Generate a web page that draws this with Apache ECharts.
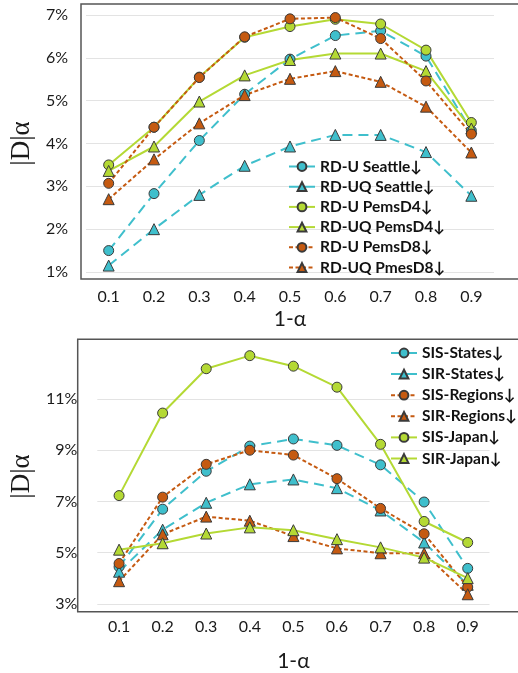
<!DOCTYPE html>
<html>
<head>
<meta charset="utf-8">
<script src="https://cdn.jsdelivr.net/npm/echarts@6/dist/echarts.min.js"></script>
<style>
  html, body { margin: 0; padding: 0; background: #fff; }
  #main { width: 518px; height: 673px; }
</style>
</head>
<body>
<div id="main"></div>
<script>
// x categories (1-alpha), shared by both panels
var alphas = ['0.1', '0.2', '0.3', '0.4', '0.5', '0.6', '0.7', '0.8', '0.9'];

// top panel, values in %
var rduSeattle  = [1.50, 2.83, 4.07, 5.15, 5.97, 6.52, 6.63, 6.04, 4.30];
var rduqSeattle = [1.15, 2.00, 2.80, 3.48, 3.93, 4.20, 4.20, 3.80, 2.78];
var rduPemsD4   = [3.50, 4.38, 5.55, 6.48, 6.73, 6.90, 6.79, 6.18, 4.49];
var rduqPemsD4  = [3.36, 3.93, 4.98, 5.59, 5.95, 6.10, 6.10, 5.69, 4.35];
var rduPemsD8   = [3.07, 4.38, 5.54, 6.49, 6.91, 6.94, 6.45, 5.46, 4.22];
var rduqPmesD8  = [2.70, 3.63, 4.47, 5.13, 5.51, 5.69, 5.44, 4.86, 3.79];

// bottom panel, values in %
var sisStates   = [4.45, 6.70, 8.18, 9.16, 9.44, 9.19, 8.43, 6.98, 4.39];
var sirStates   = [4.26, 5.90, 6.95, 7.67, 7.86, 7.52, 6.65, 5.40, 3.75];
var sisRegions  = [4.58, 7.17, 8.45, 9.00, 8.81, 7.89, 6.73, 5.74, 3.66];
var sirRegions  = [3.89, 5.72, 6.41, 6.25, 5.65, 5.17, 4.98, 4.98, 3.38];
var sisJapan    = [7.23, 10.45, 12.18, 12.69, 12.28, 11.46, 9.23, 6.22, 5.40];
var sirJapan    = [5.12, 5.37, 5.75, 5.99, 5.88, 5.53, 5.21, 4.81, 4.01];

var topNames = ['RD-U Seattle↓', 'RD-UQ Seattle↓', 'RD-U PemsD4↓', 'RD-UQ PemsD4↓', 'RD-U PemsD8↓', 'RD-UQ PmesD8↓'];
var botNames = ['SIS-States↓', 'SIR-States↓', 'SIS-Regions↓', 'SIR-Regions↓', 'SIS-Japan↓', 'SIR-Japan↓'];

var TEAL = '#3fbfcc', GREEN = '#b4d934', ORANGE = '#c55a11';
var tickFont = 'Lato, "Open Sans", sans-serif';
var serifFont = '"Liberation Serif", "DejaVu Serif", serif';

function mkSeries(name, data, color, sym, dash, idx) {
    return {
        name: name,
        type: 'line',
        xAxisIndex: idx,
        yAxisIndex: idx,
        data: data,
        symbol: sym,
        symbolSize: sym == 'circle' ? 10 : 11,
        itemStyle: { color: color, borderColor: '#3a3a3a', borderWidth: 1 },
        lineStyle: { color: color, width: 2, type: dash },
        z: 3
    };
}

var longDash = [10, 6];
var shortDash = [4, 2.5];

var myChart = echarts.init(document.getElementById('main'));
var option = {
    animation: false,
    backgroundColor: '#fff',
    grid: [
        { left: 85.5, right: 24, top: 15, height: 257 },
        { left: 88, right: 28.5, top: 349, height: 262.7 }
    ],
    graphic: [
        { type: 'rect', shape: { x: 81, y: 4, width: 445, height: 275 }, style: { fill: null, stroke: '#555', lineWidth: 1.5 }, z: 1 },
        { type: 'rect', shape: { x: 77.7, y: 339.3, width: 450, height: 272.4 }, style: { fill: null, stroke: '#555', lineWidth: 1.5 }, z: 1 }
    ],
    legend: [
        {
            data: topNames, orient: 'vertical', left: 283, top: 153.5,
            itemWidth: 26, itemHeight: 11, itemGap: 4.2,
            textStyle: { fontFamily: tickFont, fontWeight: 'bold', fontSize: 15.5, lineHeight: 15, color: '#111' }
        },
        {
            data: botNames, orient: 'vertical', left: 385, top: 340,
            itemWidth: 26, itemHeight: 11, itemGap: 5.1,
            textStyle: { fontFamily: tickFont, fontWeight: 'bold', fontSize: 15.5, lineHeight: 15, color: '#111' }
        }
    ],
    xAxis: [
        {
            gridIndex: 0, type: 'category', data: alphas, boundaryGap: true,
            axisLine: { show: false }, axisTick: { show: false },
            axisLabel: { margin: 17, fontSize: 16, color: '#1a1a1a', fontFamily: tickFont },
            name: '1-α', nameLocation: 'middle', nameGap: 37,
            nameTextStyle: { fontSize: 21, color: '#1a1a1a', fontFamily: tickFont }
        },
        {
            gridIndex: 1, type: 'category', data: alphas, boundaryGap: true,
            axisLine: { show: false }, axisTick: { show: false },
            axisLabel: { margin: 15, fontSize: 16, color: '#1a1a1a', fontFamily: tickFont },
            name: '1-α', nameLocation: 'middle', nameGap: 47,
            nameTextStyle: { fontSize: 21, color: '#1a1a1a', fontFamily: tickFont }
        }
    ],
    yAxis: [
        {
            gridIndex: 0, type: 'value', min: 1, max: 7, interval: 1,
            axisLine: { show: false }, axisTick: { show: false },
            axisLabel: { margin: 18, fontSize: 16, color: '#1a1a1a', fontFamily: tickFont, formatter: '{value}%' },
            splitLine: { lineStyle: { color: '#e3e3e3', width: 1.2 } },
            name: '|D|α', nameLocation: 'middle', nameGap: 44, nameRotate: 90,
            nameTextStyle: { fontSize: 27, color: '#1a1a1a', fontFamily: serifFont }
        },
        {
            gridIndex: 1, type: 'value', min: 3, max: 12.95, interval: 2,
            axisLine: { show: false }, axisTick: { show: false },
            axisLabel: {
                margin: 20, fontSize: 16, color: '#1a1a1a', fontFamily: tickFont, showMaxLabel: false,
                formatter: function (v) { return (v % 2 === 1) ? v + '%' : ''; }
            },
            splitLine: { showMaxLine: false, lineStyle: { color: '#e3e3e3', width: 1.2 } },
            name: '|D|α', nameLocation: 'middle', nameGap: 48, nameRotate: 90,
            nameTextStyle: { fontSize: 27, color: '#1a1a1a', fontFamily: serifFont }
        }
    ],
    series: [
        mkSeries(topNames[0], rduSeattle, TEAL, 'circle', longDash, 0),
        mkSeries(topNames[1], rduqSeattle, TEAL, 'triangle', longDash, 0),
        mkSeries(topNames[2], rduPemsD4, GREEN, 'circle', 'solid', 0),
        mkSeries(topNames[3], rduqPemsD4, GREEN, 'triangle', 'solid', 0),
        mkSeries(topNames[4], rduPemsD8, ORANGE, 'circle', shortDash, 0),
        mkSeries(topNames[5], rduqPmesD8, ORANGE, 'triangle', shortDash, 0),
        mkSeries(botNames[0], sisStates, TEAL, 'circle', longDash, 1),
        mkSeries(botNames[1], sirStates, TEAL, 'triangle', longDash, 1),
        mkSeries(botNames[2], sisRegions, ORANGE, 'circle', shortDash, 1),
        mkSeries(botNames[3], sirRegions, ORANGE, 'triangle', shortDash, 1),
        mkSeries(botNames[4], sisJapan, GREEN, 'circle', 'solid', 1),
        mkSeries(botNames[5], sirJapan, GREEN, 'triangle', 'solid', 1)
    ]
};
myChart.setOption(option);
</script>
</body>
</html>
